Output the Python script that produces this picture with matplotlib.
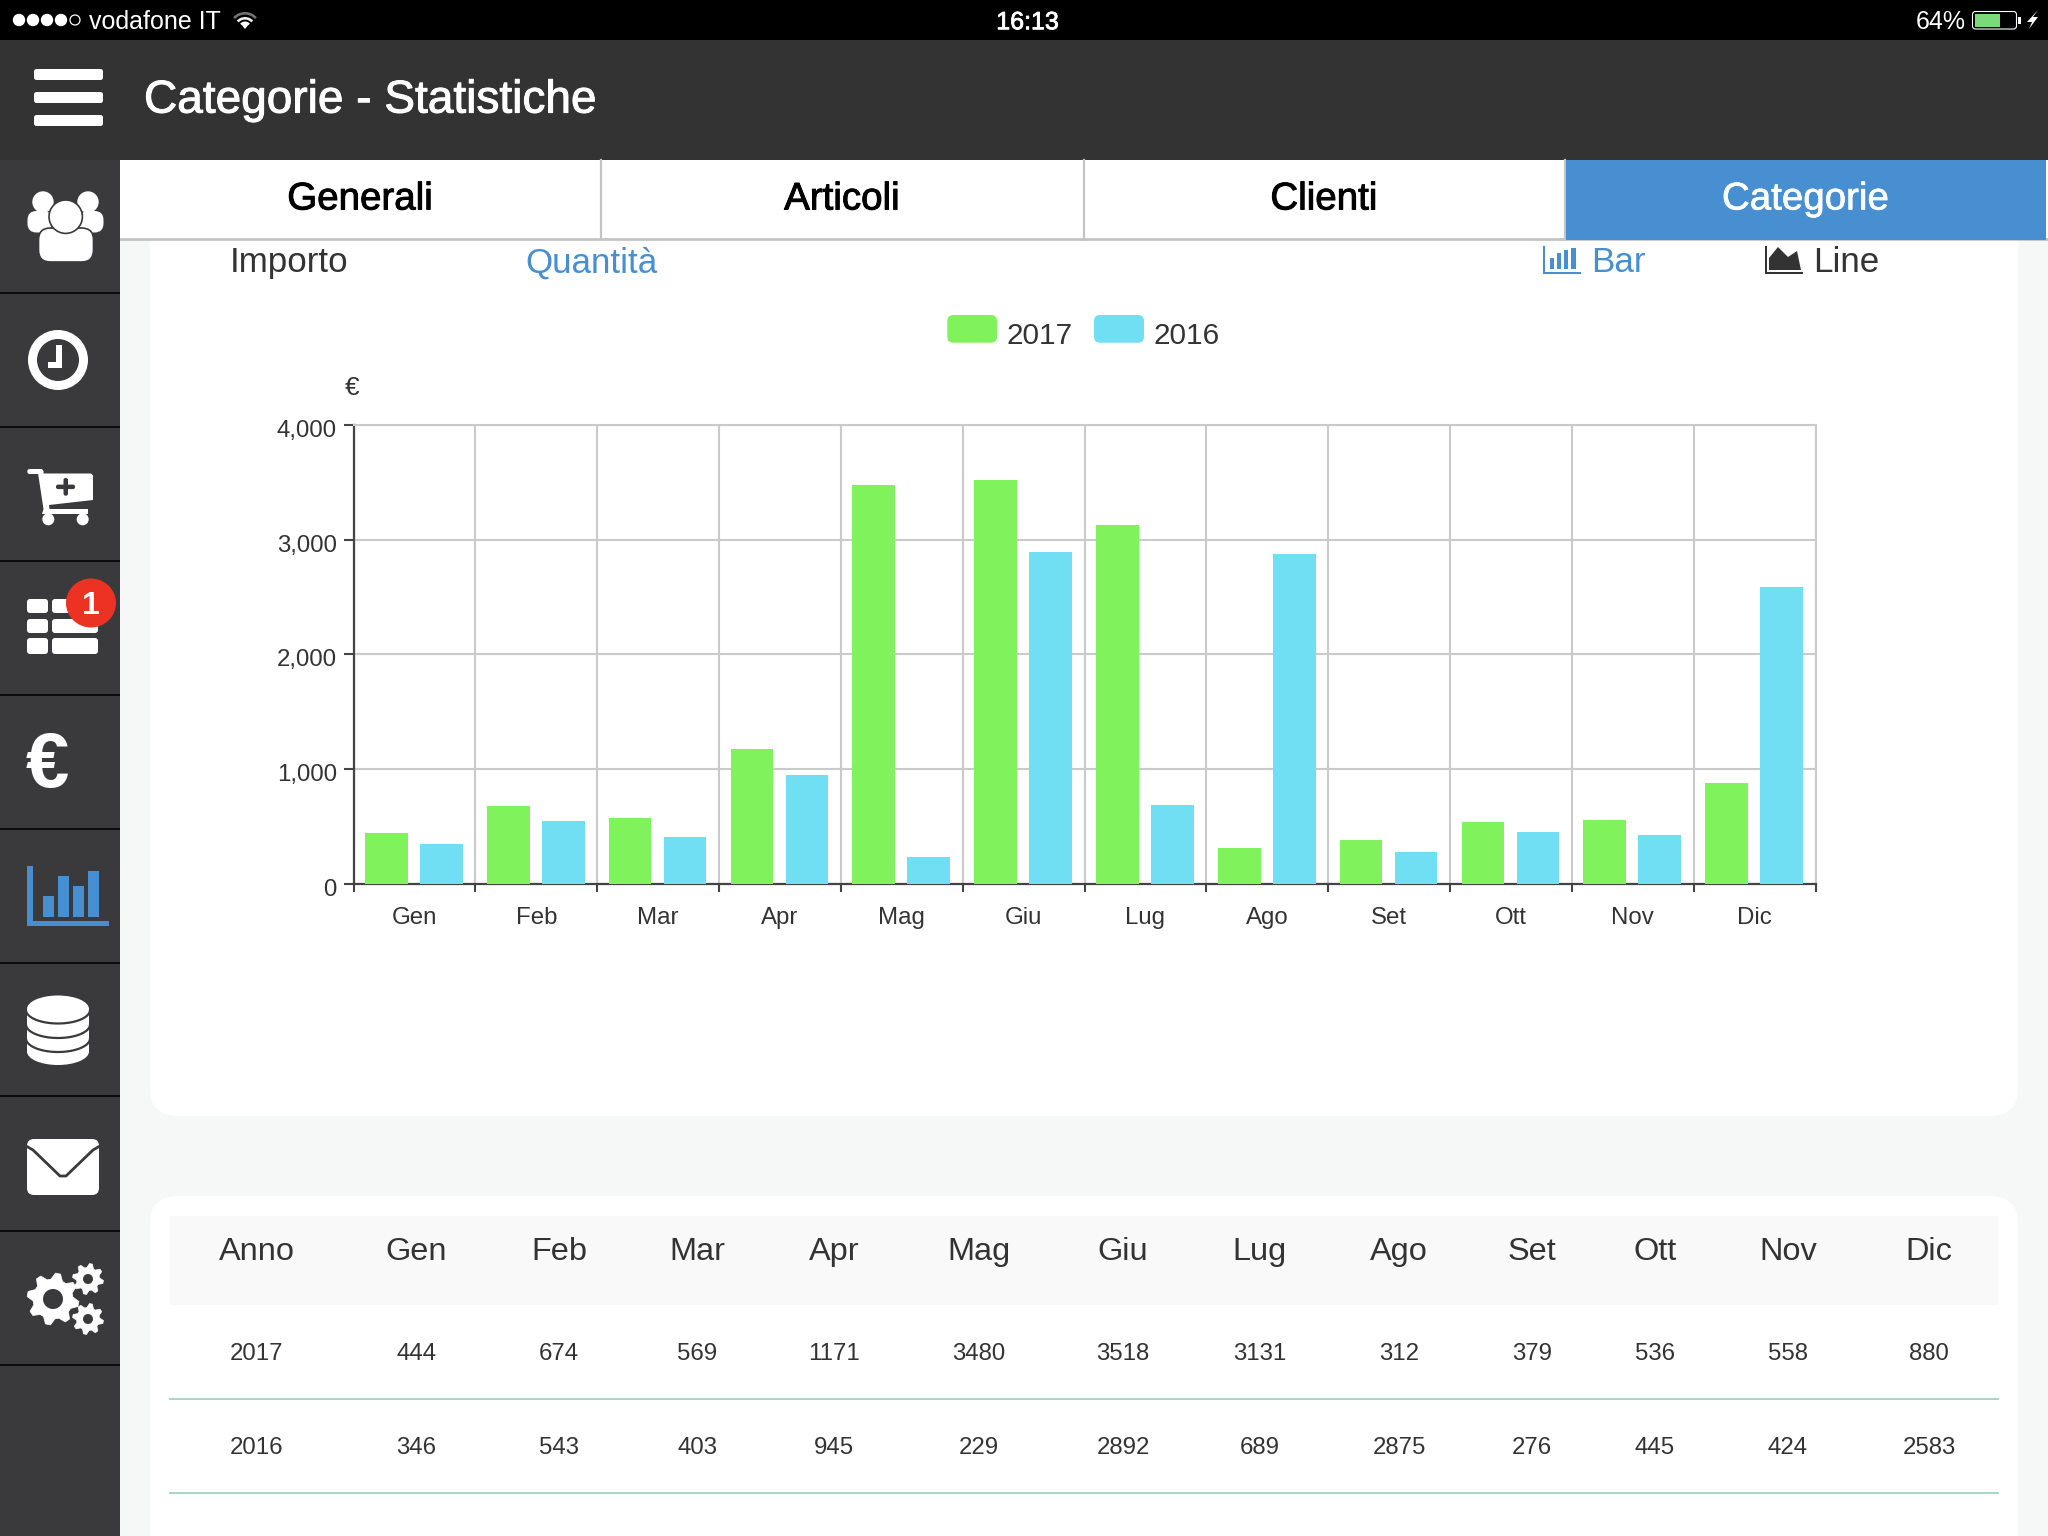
import numpy as np
import matplotlib
matplotlib.use("Agg")
import matplotlib.pyplot as plt
import matplotlib.patheffects as pe
from matplotlib.transforms import ScaledTranslation
from matplotlib.patches import Rectangle, FancyBboxPatch, Circle, Ellipse, Polygon, Wedge

plt.rcParams['font.family'] = ['Liberation Sans', 'DejaVu Sans']

months = ["Gen", "Feb", "Mar", "Apr", "Mag", "Giu", "Lug", "Ago", "Set", "Ott", "Nov", "Dic"]
years = ["2017", "2016"]
values_2017 = [444, 674, 569, 1171, 3480, 3518, 3131, 312, 379, 536, 558, 880]
values_2016 = [346, 543, 403, 945, 229, 2892, 689, 2875, 276, 445, 424, 2583]
y_ticks = [0, 1000, 2000, 3000, 4000]

GREEN, CYAN = "#80f25c", "#70dff3"
BLUE, DARK, SIDE = "#478fd1", "#333333", "#3a3a3c"
GRID = "#cacaca"

W, H = 2048, 1536
fig = plt.figure(figsize=(W / 100, H / 100), dpi=100, facecolor="#f6f8f7")
ui = fig.add_axes([0, 0, 1, 1], zorder=1)
ui.set_xlim(0, W); ui.set_ylim(H, 0); ui.axis("off")


def rect(x0, y0, x1, y1, c, z=1):
    ui.add_patch(Rectangle((x0, y0), x1 - x0, y1 - y0, fc=c, ec="none", zorder=z))


def rrect(x0, y0, x1, y1, r, c, z=2, ec="none", lw=0):
    ui.add_patch(FancyBboxPatch((x0, y0), x1 - x0, y1 - y0,
                                boxstyle=f"round,pad=0,rounding_size={r}", fc=c, ec=ec, lw=lw, zorder=z))


def T(x, y, s, px, c=DARK, ha="center", w="normal", z=5, stroke=0):
    t = ui.text(x, y + 0.35 * px, s, fontsize=px * 0.72, color=c, ha=ha, va="baseline", fontweight=w, zorder=z)
    if stroke:
        t.set_path_effects([pe.withStroke(linewidth=stroke, foreground=c)])


def circ(x, y, r, c, z=3, ec="none", lw=0):
    ui.add_patch(Circle((x, y), r, fc=c, ec=ec, lw=lw, zorder=z))


# cards and bars of the app
rrect(150, 200, 2018, 1116, 28, "white", 1)
rrect(150, 1196, 2018, 1600, 28, "white", 1)
rect(170, 1216, 1998, 1305, "#f9f9f9", z=2)
for yy in (1399, 1493):
    ui.plot([170, 1998], [yy, yy], color="#a9d6ca", lw=1.4, zorder=2)
rect(0, 0, W, 40, "black", z=3)
rect(0, 40, W, 160, DARK, z=3)
rect(120, 160, W, 240, "white", z=3)
ui.plot([120, W], [238.5, 238.5], color="#c4c4c4", lw=2, zorder=3)
for xx in (601, 1083.5, 1565):
    ui.plot([xx, xx], [160, 239], color="#c4c4c4", lw=1.6, zorder=3)
rect(1566, 160, 2046, 240, BLUE, z=4)
rect(0, 160, 120, H, SIDE, z=3)
for yy in (293, 427, 561, 695, 829, 963, 1096, 1231, 1365):
    rect(0, yy - 1.2, 120, yy + 1.2, "#0b0b0c", z=4)

# status bar
for i, xx in enumerate((19, 33, 47, 61, 75)):
    if i < 4:
        circ(xx, 20, 6.2, "white", 5)
    else:
        circ(xx, 20, 5, "none", 5, "white", 0.9)
T(89, 20.5, "vodafone IT", 25, "white", "left")
for r, a in ((16, 0.45), (11, 0.95), (6.5, 1)):
    ui.add_patch(Wedge((245, 28), r, 222, 318, width=2.6, fc="white", alpha=a, ec="none", zorder=5))
ui.add_patch(Polygon([(241, 24), (249, 24), (245, 29)], fc="white", ec="none", zorder=5))
T(1027.5, 20.5, "16:13", 25, "white", stroke=0.6)
T(1965.5, 20.5, "64%", 25, "white", "right")
ui.add_patch(FancyBboxPatch((1972.5, 11.5), 44, 17.5, boxstyle="round,pad=0,rounding_size=3",
                            fc="none", ec="white", lw=0.8, zorder=5))
rect(1974.5, 13.5, 2000, 27, "#7ad97a", z=5)
rect(2018, 17, 2021, 24, "white", z=5)
ui.add_patch(Polygon([(2038, 10), (2027, 22), (2032, 22), (2029, 29), (2038, 17), (2033, 17)],
                     fc="white", ec="none", zorder=5))

# header
for y0 in (69, 92, 115):
    rrect(34, y0, 103, y0 + 11, 2.5, "white", 5)
T(144, 96.5, "Categorie - Statistiche", 46, "white", "left", stroke=0.7)

# tabs
T(360, 196, "Generali", 38.5, "black", stroke=0.7)
T(842, 196, "Articoli", 38.5, "black", stroke=0.7)
T(1324, 196, "Clienti", 38.5, "black", stroke=0.7)
T(1805.5, 196, "Categorie", 38.5, "white", stroke=0.5)

# toggles
T(230, 260, "Importo", 35, "#333333", "left")
T(525, 260, "Quantità", 35, BLUE, "left")
T(1591, 260, "Bar", 35, BLUE, "left")
T(1813, 260, "Line", 35, "#333333", "left")
rect(1543, 246, 1545, 274, BLUE, z=5)
rect(1543, 272, 1581, 274, BLUE, z=5)
for xx, top in ((1549.5, 258), (1556.5, 253), (1563.5, 250), (1571, 248)):
    rect(xx, top, xx + 4.5, 269, BLUE, z=5)
rect(1764.5, 246, 1766.5, 274, DARK, z=5)
rect(1764.5, 272, 1803, 274, DARK, z=5)
ui.add_patch(Polygon([(1769, 270), (1769, 258), (1778, 247), (1788, 257), (1797, 251), (1801, 270)],
                     fc=DARK, ec="none", zorder=5))

# sidebar icons
circ(43, 202, 10.7, "white", 5)
circ(88, 202, 10.7, "white", 5)
rrect(27.5, 211, 52, 232.5, 9, "white", 5)
rrect(79.5, 211, 103.5, 232.5, 9, "white", 5)
rrect(38.5, 228, 93.5, 262, 12, "white", 6, SIDE, 1.2)
circ(65.7, 216.7, 16.7, "white", 7, SIDE, 1.2)

circ(58, 360, 30, "white", 5)
circ(58, 360, 21, SIDE, 6)
rect(56, 345, 62, 368, "white", 7)
rect(48, 362, 62, 368, "white", 7)

rrect(27.3, 469, 43.3, 474, 2.4, "white", 5)
ui.add_patch(Polygon([(38, 473), (43.3, 471), (43.5, 473.5), (91, 473.5), (93, 475.5), (93, 500), (49, 505),
                      (49.5, 509), (88, 509), (88, 514), (42, 514), (43.5, 509)],
                     fc="white", ec="none", zorder=5))
circ(48.3, 519.3, 6, "white", 5)
circ(82.7, 519.3, 6, "white", 5)
rrect(63.5, 478, 68, 495.7, 2, SIDE, 6)
rrect(56, 484.6, 75, 489.1, 2, SIDE, 6)

for y0, y1 in ((599, 613), (619, 633), (638, 654)):
    rrect(27, y0, 48, y1, 3, "white", 5)
    rrect(52, y0, 98, y1, 3, "white", 5)
ui.add_patch(Ellipse((91, 603), 50, 49, fc="#ec3323", ec="none", zorder=6))
T(91, 603, "1", 32, "white", z=7, w="bold")

T(47.5, 760, "€", 78, "white", w="bold")

rect(27, 866, 33, 926, BLUE, z=5)
rect(27, 921, 109, 926, BLUE, z=5)
for x0, top in ((43, 896), (58, 876), (73, 886), (88, 871)):
    rect(x0, top, x0 + 11, 917, BLUE, z=5)

# stacked discs
ui.add_patch(Ellipse((58, 1009), 62, 27, fc="white", ec="none", zorder=5))
ui.add_patch(Ellipse((58, 1051.5), 62, 27, fc="white", ec="none", zorder=5))
rect(27, 1009, 89, 1051.5, "white", 5)
ang = np.linspace(0, np.pi, 40)
for cy in (1010, 1024.5, 1038.5):
    ui.plot(58 + 32 * np.cos(ang), cy + 13.5 * np.sin(ang), color=SIDE, lw=1.6, zorder=6)

rrect(27, 1139, 99, 1195, 7, "white", 5)
ui.plot([26, 33, 60, 66, 93, 100], [1146, 1150, 1176, 1176, 1150, 1146], color=SIDE, lw=2, zorder=6)


def gear(cx, cy, r_out, r_in, hole, teeth):
    n = teeth * 4
    pts = []
    for i in range(n):
        a = 2 * np.pi * (i + 0.5) / n
        r = r_out if i % 4 in (0, 1) else r_in
        pts.append((cx + r * np.cos(a), cy + r * np.sin(a)))
    ui.add_patch(Polygon(pts, fc="white", ec="white", lw=0.5, joinstyle="round", zorder=5))
    circ(cx, cy, hole, SIDE, 6)


gear(53, 1299, 26, 20, 10, 8)
gear(88, 1279, 15.5, 11.5, 5, 8)
gear(88, 1319, 15.5, 11.5, 5, 8)

# legend of the chart
for (x0, x1, tx, label, col) in ((947.3, 997, 1007, years[0], GREEN), (1094, 1144, 1153.5, years[1], CYAN)):
    rrect(x0, 315, x1, 342.7, 6, col, 5)
    T(tx, 333.8, label, 29.8, "#333333", "left")
T(352.5, 385.5, "€", 26, "#333333")

# table
cols = [256.5, 416.5, 559, 697.5, 834, 979, 1123, 1259.5, 1399, 1532, 1655, 1788, 1929]
T(cols[0], 1248.6, "Anno", 32.5, "#333333")
T(cols[0], 1351.5, years[0], 24, "#333333")
T(cols[0], 1445.8, years[1], 24, "#333333")
for cx, m, a, b in zip(cols[1:], months, values_2017, values_2016):
    T(cx, 1248.6, m, 32.5, "#333333")
    T(cx, 1351.5, str(a), 24, "#333333")
    T(cx, 1445.8, str(b), 24, "#333333")

# the chart
L, R, TOP, BOT = 353.5, 1815.5, 425, 883.5
ax = fig.add_axes([L / W, 1 - BOT / H, (R - L) / W, (BOT - TOP) / H], zorder=2)
ax.patch.set_alpha(0)
x = np.arange(12)
ax.bar(x + 0.27, values_2017, 0.35, color=GREEN, zorder=3, label=years[0])
ax.bar(x + 0.722, values_2016, 0.35, color=CYAN, zorder=3, label=years[1])
ax.set_xlim(0, 12)
ax.set_ylim(0, 4000)
ax.set_yticks(y_ticks)
ax.set_yticklabels([f"{v:,}" for v in y_ticks], fontsize=17.3, color="#333333")
ax.set_xticks(np.arange(13))
ax.set_xticklabels([])
ax.set_xticks(x + 0.5, minor=True)
ax.set_xticklabels(months, minor=True, fontsize=17.3, color="#333333")
ax.tick_params(axis="x", which="minor", length=0, pad=17)
ax.tick_params(axis="x", which="major", length=6, width=1.5, color="#444444")
ax.tick_params(axis="y", length=7, width=1.5, color="#444444", pad=5)
ax.grid(True, which="major", color=GRID, lw=1.5, zorder=1)
ax.set_axisbelow(True)
shift = ScaledTranslation(0, -3.5 / 100, fig.dpi_scale_trans)
for lab in ax.get_yticklabels():
    lab.set_transform(lab.get_transform() + shift)
for s in ("top", "right"):
    ax.spines[s].set_color(GRID)
    ax.spines[s].set_linewidth(1.5)
for s in ("left", "bottom"):
    ax.spines[s].set_color("#444444")
    ax.spines[s].set_linewidth(1.6)

fig.savefig("out.png", dpi=100)
